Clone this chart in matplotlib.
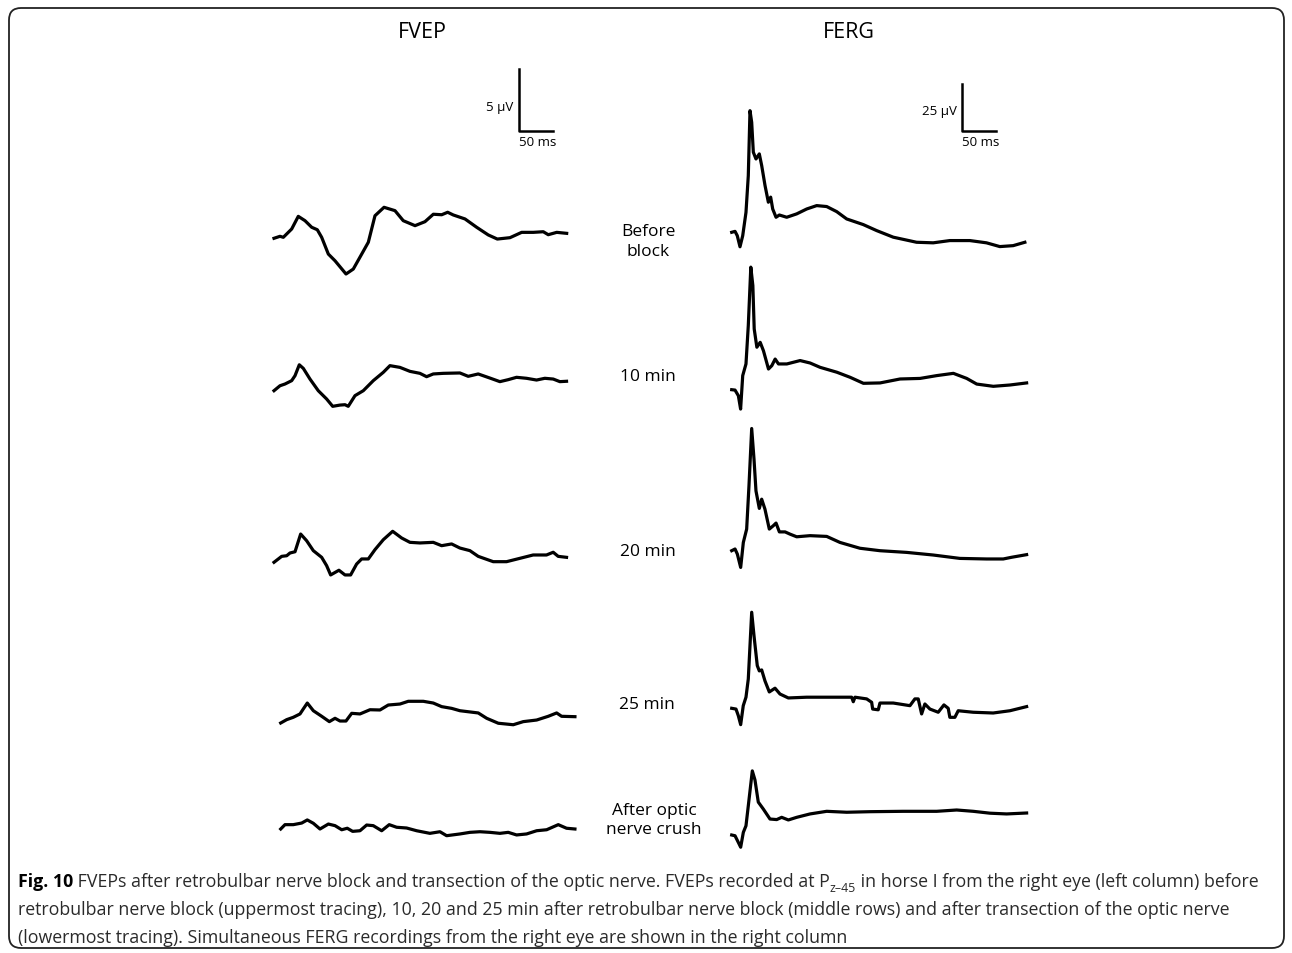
import matplotlib
matplotlib.use("Agg")
import matplotlib.pyplot as plt
from matplotlib import font_manager
from matplotlib.patches import FancyBboxPatch

W, H = 1292, 954
fig = plt.figure(figsize=(W / 100, H / 100), dpi=100)

# ---- FVEP traces (time in ms, amplitude in uV, relative to first sample)
fvep_before_t = [0, 8.8, 13.7, 26, 35.7, 45.6, 55.4, 63.7, 70.1, 79.9, 89.7, 105.9, 116.6, 129, 138.7, 148.5,
                 161.8, 177.9, 190.1, 207.4, 222, 234.3, 246.6, 255.4, 263.7, 280.9, 298, 315.1, 328.4, 347,
                 364.2, 381.3, 396, 403.3, 415.8, 430.4]
fvep_before_v = [0, 0.16, 0.08, 0.75, 1.77, 1.42, 0.89, 0.69, 0.08, -1.27, -1.81, -2.88, -2.48, -1.27, -0.32, 1.82,
                 2.5, 2.23, 1.42, 1.02, 1.34, 1.94, 1.9, 2.1, 1.88, 1.56, 0.89, 0.27, -0.06, 0.05,
                 0.48, 0.48, 0.53, 0.29, 0.48, 0.4]

fvep_10_t = [0, 8.8, 16.2, 26, 30.9, 37.2, 43.1, 52.9, 65.1, 77.4, 86.3, 97, 104.4, 109.2, 119.1, 131.3, 146,
             160.7, 170.5, 185.2, 199.9, 214.6, 224.4, 234.2, 248.9, 273.4, 285.6, 300.3, 317.5, 332.2, 344.4,
             356.7, 371.4, 386.1, 398.3, 410.6, 420.4, 430.2]
fvep_10_v = [0, 0.4, 0.54, 0.81, 1.21, 2.09, 1.8, 0.94, 0, -0.67, -1.26, -1.16, -1.13, -1.26, -0.4, 0, 0.81,
             1.48, 2.02, 1.88, 1.56, 1.4, 1.13, 1.35, 1.4, 1.43, 1.16, 1.35, 1.02, 0.73, 0.89,
             1.08, 1.0, 0.86, 1.0, 0.94, 0.73, 0.76]

fvep_20_t = [0, 11.3, 18.7, 23.5, 30.9, 39.2, 48, 57.8, 70.1, 77.4, 83.3, 95.5, 104.4, 112.7, 121.5, 128.9,
             138.7, 148.5, 160.7, 174.5, 187.7, 199.9, 214.6, 234.2, 246.5, 261.2, 273.4, 288.1, 300.3, 322.4,
             342, 361.6, 381.1, 400.7, 410.6, 417.9, 430.2]
fvep_20_v = [0, 0.48, 0.53, 0.75, 0.85, 2.28, 1.74, 0.94, 0.4, -0.27, -1.02, -0.64, -1.02, -1.02, -0.14, 0.27,
             0.27, 1.02, 1.82, 2.5, 1.96, 1.61, 1.56, 1.61, 1.34, 1.48, 1.15, 0.94, 0.48, 0.05,
             0.05, 0.32, 0.59, 0.59, 0.81, 0.48, 0.4]

fvep_25_t = [0, 8.8, 18.5, 28.4, 33.2, 39.1, 48, 60.3, 71.5, 79.9, 87.2, 96, 104.4, 116.6, 131.3, 146, 158.2,
             175.4, 187.6, 209.7, 224.4, 236.7, 251.4, 263.6, 290.5, 302.9, 320, 342, 356.7, 376.4, 393.4,
             405.8, 413.1, 432.7]
fvep_25_v = [0, 0.27, 0.46, 0.73, 1.13, 1.61, 0.99, 0.54, 0.11, 0.38, 0.16, 0.16, 0.78, 0.73, 1.07, 1.05, 1.45,
             1.53, 1.75, 1.75, 1.61, 1.32, 1.18, 0.99, 0.81, 0.38, -0.02, -0.14, 0.11, 0.24, 0.54,
             0.81, 0.54, 0.51]

fvep_crush_t = [0, 6.3, 18.5, 30.9, 39.1, 48, 57.8, 70.1, 79.9, 89.7, 97.9, 105.8, 116.6, 126.4, 136.1, 148.5,
                159.6, 170.5, 185.2, 199.9, 219.4, 234.2, 244, 263.6, 278.3, 293, 307.7, 322.4, 334.6, 346.9,
                361.6, 376.4, 391.1, 408.2, 420.4, 432.7]
fvep_crush_v = [0, 0.35, 0.35, 0.48, 0.73, 0.46, 0, 0.4, 0.27, -0.06, 0.06, -0.19, -0.14, 0.32, 0.27, -0.14,
                0.35, 0.14, 0.08, -0.14, -0.35, -0.22, -0.54, -0.4, -0.27, -0.22, -0.27, -0.35, -0.27, -0.48,
                -0.4, -0.14, -0.06, 0.35, 0.06, 0]

# ---- FERG traces
ferg_before_t = [0, 4.9, 8.2, 12.2, 16.2, 21, 24.4, 26.9, 29.4, 31.8, 35.7, 40.6, 44.1, 49, 53.9, 57.3, 60.3,
                 65.2, 70.1, 80.9, 95.6, 110.3, 125, 139.7, 154.4, 169.1, 193.5, 213.2, 237.6, 271.9, 296.3,
                 320.8, 350.2, 374.7, 394.3, 413.9, 431.1]
ferg_before_v = [0, 0.5, -1.8, -7.7, -1.8, 10.6, 30.1, 64.7, 58.5, 42.6, 39, 41.7, 35.5, 24.9, 16, 18.7, 12.4,
                 8, 9.2, 8, 9.8, 12.4, 14.2, 13.7, 11, 7.1, 4.1, 0.9, -2.6, -5.3, -5.6,
                 -4.4, -4.4, -5.6, -7.6, -7.1, -5.3]

ferg_10_t = [0, 4.9, 9.8, 13.1, 16.2, 21, 24.4, 28.1, 31.1, 33.1, 37, 41.9, 46.7, 54.1, 59, 63.9, 68.8, 81.1,
             100.6, 115.3, 130, 154.6, 174.1, 193.7, 218.2, 247.6, 277, 301.6, 326, 345.6, 360.3, 384.7,
             409.2, 433.7]
ferg_10_v = [0, -0.2, -3.2, -10.3, 7.5, 13.7, 34.1, 65.2, 55.4, 32.3, 22.6, 25.2, 20.7, 11, 12.8, 16.3, 13.7, 13.7,
             15.5, 14.2, 11.9, 9.3, 6.6, 3.4, 3.6, 5.7, 6, 7.5, 8.7, 6, 3, 1.8,
             2.5, 3.6]

ferg_20_t = [0, 4.9, 8.3, 13.2, 17.1, 22, 25.4, 29.4, 32.8, 35.7, 40.6, 44.1, 48.9, 55.3, 61.2, 65.2, 70.1,
             78.5, 85.8, 95.6, 115.2, 139.7, 159.2, 188.6, 218, 257.3, 296.4, 335.6, 374.8, 399.3, 411.6, 433.7]
ferg_20_v = [0, 0.9, -1.8, -8.9, 4.4, 11.5, 34.5, 65, 48.7, 31.8, 22.5, 27.4, 22.1, 11.5, 13.3, 14.7, 10,
             10, 8.8, 7.4, 8, 7.6, 4.4, 1.3, 0, -0.9, -2.3, -4.1, -4.4, -4.4, -3.5, -2.1]

ferg_25_t = [0, 6.3, 9.7, 13.2, 17, 21, 24.4, 29.4, 32.8, 37.6, 40.6, 44.1, 48.9, 55.3, 63.7, 71, 83.3, 110.2,
             144.5, 176.4, 178.8, 181.3, 198.5, 205.8, 207.3, 215.5, 218, 237.6, 262.1, 269.4, 274.3, 279.3,
             284.1, 291.5, 303.7, 312.1, 318.4, 320.8, 328.2, 333.1, 355.1, 384.5, 409.1, 433.7]
ferg_25_v = [0, -0.4, -3.9, -8.7, 1.4, 5.9, 15.6, 51.1, 38.6, 22.7, 19.9, 20.4, 14.6, 8.7, 10.7, 7.6, 5.5, 5.9,
             5.9, 5.9, 3.5, 5.9, 5, 3.2, -0.4, -0.8, 2.8, 2.8, 1.4, 5, 5, -3,
             2.3, -0.4, -2.1, 1.8, 0, -4.8, -4.8, -1.3, -2.1, -2.5, -1.3, 0.9]

ferg_crush_t = [0, 4.9, 9.7, 13.2, 17.1, 21, 24.4, 30.3, 34.2, 39.1, 46.5, 56.3, 66.2, 73.5, 83.3, 95.6, 115.2,
                139.7, 169.1, 203.4, 252.3, 301.4, 330.8, 355.2, 379.8, 404.3, 433.7]
ferg_crush_v = [0, -0.4, -3.9, -6.5, 1.4, 4.9, 15.5, 34.1, 29.3, 17.5, 13.8, 8.5, 8.2, 9.4, 8, 9.4, 11.2,
                12.6, 12.1, 12.4, 12.6, 12.6, 13.3, 12.6, 11.6, 11.2, 11.7]

row_labels = ["Before\nblock", "10 min", "20 min", "25 min", "After optic\nnerve crush"]
fvep_traces = [(fvep_before_t, fvep_before_v), (fvep_10_t, fvep_10_v), (fvep_20_t, fvep_20_v),
               (fvep_25_t, fvep_25_v), (fvep_crush_t, fvep_crush_v)]
ferg_traces = [(ferg_before_t, ferg_before_v), (ferg_10_t, ferg_10_v), (ferg_20_t, ferg_20_v),
               (ferg_25_t, ferg_25_v), (ferg_crush_t, ferg_crush_v)]

# layout (pixels from top-left): start of each trace
fvep_origins = [(274, 239.3), (274, 391.7), (274, 563.3), (280.7, 724), (280.7, 830)]
ferg_origins = [(731.7, 233.3), (731.7, 390.7), (731.7, 551.7), (731.7, 709.3), (731.7, 836)]
label_pos = [(648, 242), (648, 377), (648, 552), (647, 705), (654, 821)]
PX_MS = 0.68          # pixels per ms (both columns)
FVEP_PX_UV = 12.4     # pixels per uV
FERG_PX_UV = 1.88

LW = 2.3


def trace_axes(x0, y0, px_uv, vlim):
    tlim = (-30, 470)
    rect = [(x0 + tlim[0] * PX_MS) / W, (H - y0 + vlim[0] * px_uv) / H,
            (tlim[1] - tlim[0]) * PX_MS / W, (vlim[1] - vlim[0]) * px_uv / H]
    ax = fig.add_axes(rect)
    ax.set_xlim(tlim)
    ax.set_ylim(vlim)
    ax.axis("off")
    return ax


for (t, v), (x0, y0) in zip(fvep_traces, fvep_origins):
    ax = trace_axes(x0, y0, FVEP_PX_UV, (-5, 5))
    ax.plot(t, v, color="black", lw=LW, solid_joinstyle="round", clip_on=False)

for (t, v), (x0, y0) in zip(ferg_traces, ferg_origins):
    ax = trace_axes(x0, y0, FERG_PX_UV, (-15, 70))
    ax.plot(t, v, color="black", lw=LW, solid_joinstyle="round", clip_on=False)

# scale bars
ax = trace_axes(519, 132, FVEP_PX_UV, (-5, 5))
ax.plot([0, 0, 50], [5, 0, 0], color="black", lw=1.8, clip_on=False)
ax = trace_axes(962, 132, FERG_PX_UV, (-15, 70))
ax.plot([0, 0, 50], [25, 0, 0], color="black", lw=1.8, clip_on=False)

# overlay in pixel coordinates for text and frame
ov = fig.add_axes([0, 0, 1, 1])
ov.set_xlim(0, W)
ov.set_ylim(H, 0)
ov.axis("off")
ov.set_zorder(-1)

frame = FancyBboxPatch((9, 9), 1275, 940, boxstyle="round,pad=0,rounding_size=12",
                       fill=False, ec="#222222", lw=1.3)
ov.add_patch(frame)

sans = "Open Sans"
ov.text(422, 33, "FVEP", fontsize=15.5, family=sans, ha="center", va="center")
ov.text(849, 33, "FERG", fontsize=15.5, family=sans, ha="center", va="center")

ov.text(513, 108, "5 \u00b5V", fontsize=9.5, family=sans, ha="right", va="center")
ov.text(519, 142, "50 ms", fontsize=9.5, family=sans, ha="left", va="center")
ov.text(957, 112, "25 \u00b5V", fontsize=9.5, family=sans, ha="right", va="center")
ov.text(962, 142, "50 ms", fontsize=9.5, family=sans, ha="left", va="center")

for lab, (x, y) in zip(row_labels, label_pos):
    ov.text(x, y, lab, fontsize=12.5, family=sans, ha="center", va="center", linespacing=1.25)

# caption
try:
    font_manager.findfont("Liberation Sans Narrow", fallback_to_default=False)
    cap_font, cap_size = "Liberation Sans Narrow", 13.2
except ValueError:
    cap_font, cap_size = "Open Sans", 12.8
cap_col = "#2a2a2a"
line1a = " FVEPs after retrobulbar nerve block and transection of the optic nerve. FVEPs recorded at P"
line1b = " in horse I from the right eye (left column) before"
line2 = ("retrobulbar nerve block (uppermost tracing), 10, 20 and 25 min after retrobulbar nerve block "
         "(middle rows) and after transection of the optic nerve")
line3 = "(lowermost tracing). Simultaneous FERG recordings from the right eye are shown in the right column"

kw = dict(family=cap_font, fontsize=cap_size, color=cap_col)
p0 = ov.text(18, 891, "Fig. 10", fontweight="bold", va="bottom", ha="left", color="black",
             family=cap_font, fontsize=cap_size)
p1 = ov.annotate(line1a, xy=(1, 0), xycoords=p0, va="bottom", ha="left", **kw)
p2 = ov.annotate("z\u201345", xy=(1, 0), xycoords=p1, xytext=(0, -3), textcoords="offset points",
                 va="bottom", ha="left", family=cap_font, fontsize=cap_size * 0.7, color=cap_col)
p3 = ov.annotate(line1b, xy=(1, 0), xycoords=(p2, p1), va="bottom", ha="left", **kw)
ov.text(18, 919, line2, va="bottom", ha="left", **kw)
ov.text(18, 947, line3, va="bottom", ha="left", **kw)

fig.savefig("out.png", dpi=100)
